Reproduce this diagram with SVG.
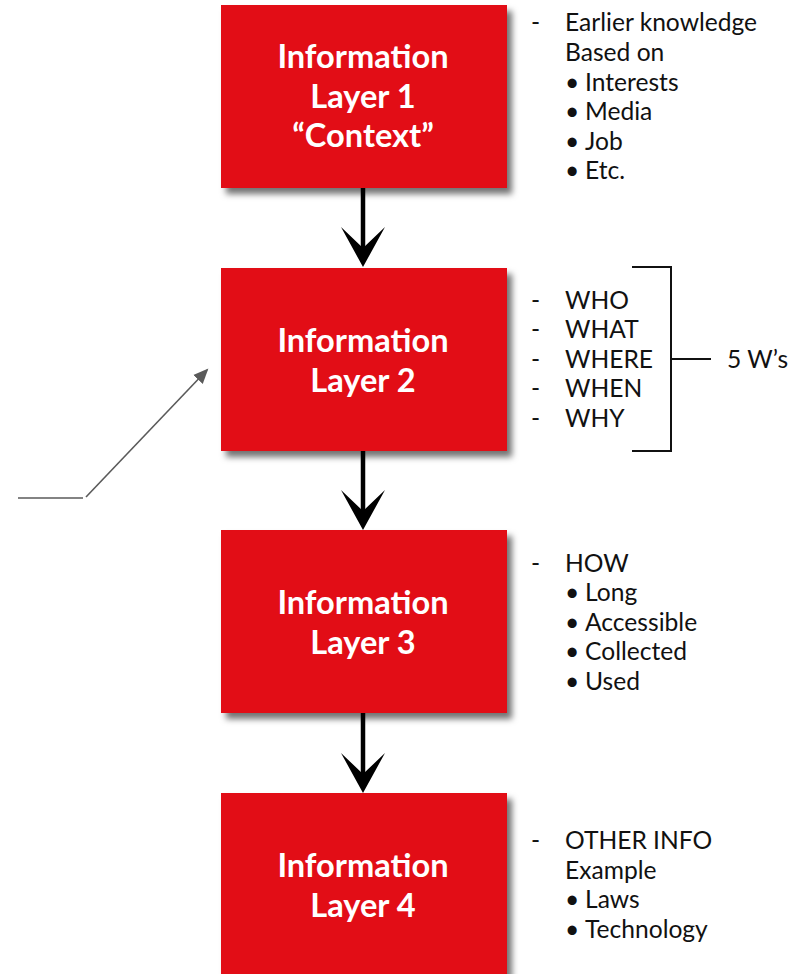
<svg xmlns="http://www.w3.org/2000/svg" width="812" height="974" viewBox="0 0 812 974">
<style>
.box{fill:#e20816;filter:url(#sh);}
.bt{font-family:Lato,"Open Sans",sans-serif;font-weight:bold;font-size:32.6px;fill:#fff;text-anchor:middle;}
.nt{font-family:Lato,"Open Sans",sans-serif;font-size:24.6px;fill:#111;}
.flow{stroke:#000;stroke-width:4.5;fill:none;marker-end:url(#ah);}
.br{stroke:#111;stroke-width:2;fill:none;}
.gray{stroke:#5a5a5a;stroke-width:1.6;fill:none;}
</style>
<defs>
<filter id="sh" x="-10%" y="-10%" width="130%" height="130%">
<feGaussianBlur in="SourceAlpha" stdDeviation="3"/>
<feOffset dx="5" dy="6" result="b"/>
<feFlood flood-color="#000" flood-opacity="0.55"/>
<feComposite in2="b" operator="in"/>
<feMerge><feMergeNode/><feMergeNode in="SourceGraphic"/></feMerge>
</filter>
<marker id="ah" markerUnits="userSpaceOnUse" markerWidth="44" markerHeight="46" viewBox="0 -23 44 46" refX="31" refY="0" orient="auto">
<path d="M0,-22 L40,0 L0,22 L21,0 Z" fill="#000"/>
</marker>
<marker id="gh" markerUnits="userSpaceOnUse" markerWidth="16" markerHeight="14" viewBox="0 -7 16 14" refX="13" refY="0" orient="auto">
<path d="M0,-6.5 L15,0 L0,6.5 Z" fill="#5a5a5a"/>
</marker>
</defs>

<g id="connectors">
<line class="flow" x1="363" y1="188" x2="363" y2="258"/>
<line class="flow" x1="363" y1="451" x2="363" y2="521"/>
<line class="flow" x1="363" y1="713" x2="363" y2="784"/>
<line class="gray" x1="18" y1="498" x2="83" y2="498" stroke="#707070"/>
<line class="gray" x1="86" y1="497" x2="207" y2="370" marker-end="url(#gh)"/>
</g>

<g id="layer1">
<rect class="box" x="221" y="5" width="286" height="183"/>
<text class="bt" x="363" y="68">Information</text>
<text class="bt" x="363" y="108">Layer 1</text>
<text class="bt" x="363" y="147">“Context”</text>
</g>
<g id="layer2">
<rect class="box" x="221" y="268" width="286" height="183"/>
<text class="bt" x="363" y="352">Information</text>
<text class="bt" x="363" y="392">Layer 2</text>
</g>
<g id="layer3">
<rect class="box" x="221" y="530" width="286" height="183"/>
<text class="bt" x="363" y="614">Information</text>
<text class="bt" x="363" y="654">Layer 3</text>
</g>
<g id="layer4">
<rect class="box" x="221" y="793" width="286" height="183"/>
<text class="bt" x="363" y="877">Information</text>
<text class="bt" x="363" y="917">Layer 4</text>
</g>

<g id="notes1">
<text class="nt" x="531" y="31">-</text>
<text class="nt" x="565" y="31">Earlier knowledge</text>
<text class="nt" x="565" y="61">Based on</text>
<text class="nt" y="91"><tspan x="565">•</tspan><tspan x="585">Interests</tspan></text>
<text class="nt" y="120"><tspan x="565">•</tspan><tspan x="585">Media</tspan></text>
<text class="nt" y="150"><tspan x="565">•</tspan><tspan x="585">Job</tspan></text>
<text class="nt" y="179"><tspan x="565">•</tspan><tspan x="585">Etc.</tspan></text>
</g>

<g id="notes2">
<text class="nt" x="531" y="309">-</text>
<text class="nt" x="565" y="309">WHO</text>
<text class="nt" x="531" y="338">-</text>
<text class="nt" x="565" y="338">WHAT</text>
<text class="nt" x="531" y="368">-</text>
<text class="nt" x="565" y="368">WHERE</text>
<text class="nt" x="531" y="397">-</text>
<text class="nt" x="565" y="397">WHEN</text>
<text class="nt" x="531" y="427">-</text>
<text class="nt" x="565" y="427">WHY</text>
</g>

<g id="bracket">
<path class="br" d="M632,267 H671 V451 H632 M671,359 H711"/>
<text class="nt" x="727" y="368">5 W’s</text>
</g>

<g id="notes3">
<text class="nt" x="531" y="572">-</text>
<text class="nt" x="565" y="572">HOW</text>
<text class="nt" y="601"><tspan x="565">•</tspan><tspan x="585">Long</tspan></text>
<text class="nt" y="631"><tspan x="565">•</tspan><tspan x="585">Accessible</tspan></text>
<text class="nt" y="660"><tspan x="565">•</tspan><tspan x="585">Collected</tspan></text>
<text class="nt" y="690"><tspan x="565">•</tspan><tspan x="585">Used</tspan></text>
</g>

<g id="notes4">
<text class="nt" x="531" y="849">-</text>
<text class="nt" x="565" y="849">OTHER INFO</text>
<text class="nt" x="565" y="879">Example</text>
<text class="nt" y="908"><tspan x="565">•</tspan><tspan x="585">Laws</tspan></text>
<text class="nt" y="938"><tspan x="565">•</tspan><tspan x="585">Technology</tspan></text>
</g>
</svg>
